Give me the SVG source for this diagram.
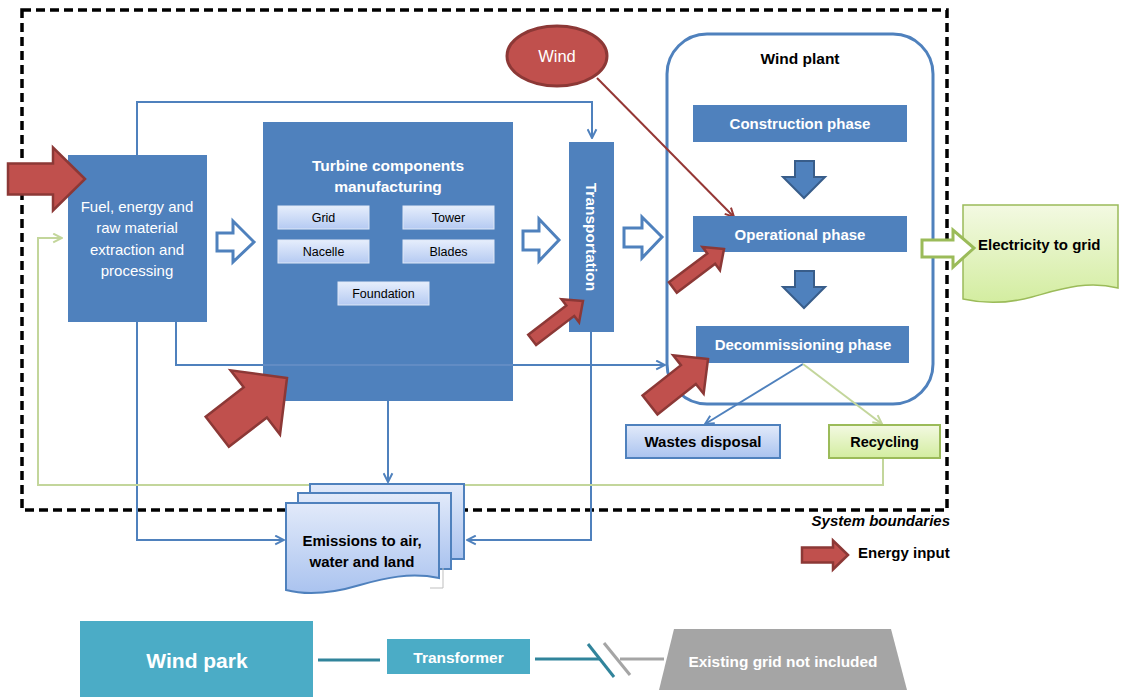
<svg xmlns="http://www.w3.org/2000/svg" width="1121" height="697" viewBox="0 0 1121 697">
<style>
text{font-family:"Liberation Sans",Arial,sans-serif}
.w{fill:#fff}
.b{font-weight:bold}
.blue{fill:#4f81bd}
.conn{fill:none;stroke:#4f81bd;stroke-width:2}
.gconn{fill:none;stroke:#c3d69b;stroke-width:2}
.hollow{fill:#fff;stroke:#4f81bd;stroke-width:3;stroke-linejoin:miter}
.red{fill:#c0504d;stroke:#8c3836;stroke-width:2.5;stroke-linejoin:miter}
.down{fill:#4f81bd;stroke:#385d8a;stroke-width:2}
.sub{fill:url(#gSub);stroke:#dfe8f7;stroke-width:1}
.teal{fill:#4bacc6}
</style>
<defs>
<linearGradient id="gBlue" x1="0" y1="0" x2="0" y2="1"><stop offset="0" stop-color="#e2eafa"/><stop offset="1" stop-color="#aac3ef"/></linearGradient>
<linearGradient id="gGreen" x1="0" y1="0" x2="0" y2="1"><stop offset="0" stop-color="#f3f9e2"/><stop offset="1" stop-color="#d3eda0"/></linearGradient>
<linearGradient id="gSub" x1="0" y1="0" x2="0" y2="1"><stop offset="0" stop-color="#e6eefc"/><stop offset="1" stop-color="#b5caf2"/></linearGradient>
<marker id="mB" viewBox="0 0 10 10" refX="9" refY="5" markerWidth="11" markerHeight="11" markerUnits="userSpaceOnUse" orient="auto"><path d="M1,1 L9,5 L1,9" fill="none" stroke="#4f81bd" stroke-width="1.8"/></marker>
<marker id="mG" viewBox="0 0 10 10" refX="9" refY="5" markerWidth="11" markerHeight="11" markerUnits="userSpaceOnUse" orient="auto"><path d="M1,1 L9,5 L1,9" fill="none" stroke="#c3d69b" stroke-width="1.8"/></marker>
<marker id="mR" viewBox="0 0 10 10" refX="9" refY="5" markerWidth="11" markerHeight="11" markerUnits="userSpaceOnUse" orient="auto"><path d="M1,1 L9,5 L1,9" fill="none" stroke="#953735" stroke-width="1.8"/></marker>
</defs>

<rect width="1121" height="697" fill="#fff"/>

<!-- system boundary -->
<rect id="boundary" x="22" y="10" width="925" height="500" fill="none" stroke="#000" stroke-width="3.5" stroke-dasharray="9,5"/>

<!-- wind plant container -->
<g id="wind-plant">
<rect x="667" y="34" width="266" height="370" rx="40" fill="#fff" stroke="#4f81bd" stroke-width="3"/>
<text x="800" y="64" text-anchor="middle" font-size="15.5" class="b">Wind plant</text>
</g>

<!-- connectors -->
<g id="connectors">
<path class="conn" d="M137,155 V102 H592 V138" marker-end="url(#mB)"/>
<path class="conn" d="M176,322 V365 H665" marker-end="url(#mB)"/>
<path class="conn" d="M137,322 V540 H284" marker-end="url(#mB)"/>
<path class="conn" d="M388,401 V482" marker-end="url(#mB)"/>
<path class="conn" d="M591,332 V540 H467" marker-end="url(#mB)"/>
<path class="conn" d="M803,364 L705,424" marker-end="url(#mB)"/>
<path class="gconn" d="M803,364 L882,424" marker-end="url(#mG)"/>
<path class="gconn" d="M883,459 V485 H38 V238 H62" marker-end="url(#mG)"/>
<path d="M597,78 L734,217" fill="none" stroke="#953735" stroke-width="2" marker-end="url(#mR)"/>
<!-- hollow flow arrows -->
<path class="hollow" d="M217,233 H233 V221 L254,242 L233,262 V251 H217 Z"/>
<path class="hollow" d="M523,231 H539 V219 L559,240 L539,261 V250 H523 Z"/>
<path class="hollow" d="M624,228 H642 V217 L662,237 L642,258 V247 H624 Z"/>
<!-- phase arrows -->
<path class="down" d="M795,161 H814 V177 H825 L804,198 L783,177 H795 Z"/>
<path class="down" d="M795,271 H814 V287 H825 L804,308 L783,287 H795 Z"/>
</g>

<!-- fuel box -->
<g id="fuel">
<rect x="68" y="155" width="139" height="167" class="blue"/>
<text class="w" font-size="15" text-anchor="middle"><tspan x="137" y="212">Fuel, energy and</tspan><tspan x="137" y="233">raw material</tspan><tspan x="137" y="255">extraction and</tspan><tspan x="137" y="276">processing</tspan></text>
</g>

<!-- turbine manufacturing -->
<g id="turbine">
<rect x="263" y="122" width="250" height="279" class="blue"/>
<line x1="263" y1="365" x2="513" y2="365" stroke="#6891c7" stroke-width="1.5"/>
<text class="w b" font-size="15.5" text-anchor="middle"><tspan x="388" y="171">Turbine components</tspan><tspan x="388" y="192">manufacturing</tspan></text>
<g id="grid"><rect x="278" y="206" width="91" height="23" class="sub"/><text x="323.5" y="222" font-size="12.5" text-anchor="middle">Grid</text></g>
<g id="tower"><rect x="403" y="206" width="91" height="23" class="sub"/><text x="448.5" y="222" font-size="12.5" text-anchor="middle">Tower</text></g>
<g id="nacelle"><rect x="278" y="240" width="91" height="23" class="sub"/><text x="323.5" y="256" font-size="12.5" text-anchor="middle">Nacelle</text></g>
<g id="blades"><rect x="403" y="240" width="91" height="23" class="sub"/><text x="448.5" y="256" font-size="12.5" text-anchor="middle">Blades</text></g>
<g id="foundation"><rect x="338" y="282" width="91" height="23" class="sub"/><text x="383.5" y="298" font-size="12.5" text-anchor="middle">Foundation</text></g>
</g>

<!-- transportation -->
<g id="transportation">
<rect x="569" y="142" width="45" height="190" class="blue"/>
<text class="w b" font-size="15.5" text-anchor="middle" transform="translate(586,237) rotate(90)">Transportation</text>
</g>

<!-- wind -->
<g id="wind">
<ellipse cx="557" cy="56" rx="50" ry="30" fill="#c0504d" stroke="#8c3836" stroke-width="3"/>
<text class="w" x="557" y="62" font-size="16.5" text-anchor="middle">Wind</text>
</g>

<!-- phases -->
<g id="construction"><rect x="693" y="105" width="214" height="37" class="blue"/><text class="w b" x="800" y="129" font-size="15" text-anchor="middle">Construction phase</text></g>
<g id="operational"><rect x="693" y="216" width="214" height="36" class="blue"/><text class="w b" x="800" y="240" font-size="15" text-anchor="middle">Operational phase</text></g>
<g id="decommissioning"><rect x="696" y="326" width="213" height="37" class="blue"/><text class="w b" x="803" y="350" font-size="15" text-anchor="middle">Decommissioning phase</text></g>

<!-- electricity to grid -->
<g id="electricity">
<path d="M963,205 H1118 V288 C1085,280 1058,290 1032,297 C1006,304 985,304 963,299 Z" fill="url(#gGreen)" stroke="#9bbb59" stroke-width="1.5"/>
<path d="M922,240 H953 V230 L974,248 L953,267 V257 H922 Z" fill="#fff" stroke="#9bbb59" stroke-width="3"/>
<text x="978" y="250" font-size="15" class="b">Electricity to grid</text>
</g>

<!-- wastes / recycling -->
<g id="wastes"><rect x="626" y="425" width="154" height="33" fill="url(#gBlue)" stroke="#4f81bd" stroke-width="2"/><text x="703" y="447" font-size="15" class="b" text-anchor="middle">Wastes disposal</text></g>
<g id="recycling"><rect x="829" y="425" width="111" height="33" fill="url(#gGreen)" stroke="#9bbb59" stroke-width="2"/><text x="884.5" y="447" font-size="14.5" class="b" text-anchor="middle">Recycling</text></g>

<!-- emissions -->
<g id="emissions">
<rect x="310" y="484" width="154" height="75" fill="url(#gBlue)" stroke="#4f81bd" stroke-width="2"/>
<rect x="298" y="493" width="153" height="76" fill="url(#gBlue)" stroke="#4f81bd" stroke-width="2"/>
<polyline points="443,568 443,588 430,588" fill="none" stroke="#bfbfbf" stroke-width="1"/>
<path d="M286,503 H439 V578 C410,572 385,578 360,585 C330,594 305,595 286,590 Z" fill="url(#gBlue)" stroke="#4f81bd" stroke-width="2"/>
<text class="b" font-size="15" text-anchor="middle"><tspan x="362" y="546">Emissions to air,</tspan><tspan x="362" y="567">water and land</tspan></text>
</g>

<!-- energy inputs -->
<g id="energy-inputs">
<path class="red" d="M0,0 L-32,-31.5 L-32,-15.5 L-77,-15.5 L-77,15.5 L-32,15.5 L-32,31.5 Z" transform="translate(85,179)"/>
<path class="red" stroke-width="3" d="M0,0 L-40,-40.5 L-40,-19 L-88,-19 L-88,19 L-40,19 L-40,40.5 Z" transform="translate(287,378) rotate(-37.6)"/>
<path class="red" d="M0,0 L-16,-14.5 L-16,-6.5 L-64,-6.5 L-64,6.5 L-16,6.5 L-16,14.5 Z" transform="translate(583,301) rotate(-37.4)"/>
<path class="red" d="M0,0 L-16,-14.5 L-16,-6.5 L-64,-6.5 L-64,6.5 L-16,6.5 L-16,14.5 Z" transform="translate(724,249) rotate(-37)"/>
<path class="red" d="M0,0 L-25,-24.5 L-25,-12 L-74,-12 L-74,12 L-25,12 L-25,24.5 Z" transform="translate(708,359) rotate(-38.4)"/>
</g>

<!-- legend -->
<g id="legend">
<text x="950" y="526" font-size="15" class="b" font-style="italic" text-anchor="end">System boundaries</text>
<path class="red" d="M0,0 L-15,-14.5 L-15,-7.5 L-46,-7.5 L-46,7.5 L-15,7.5 L-15,14.5 Z" transform="translate(848,555)"/>
<text x="858" y="558" font-size="15" class="b">Energy input</text>
</g>

<!-- bottom grid chain -->
<g id="wind-park"><rect x="80" y="621" width="233" height="76" class="teal"/><text class="w b" x="197" y="668" font-size="21" text-anchor="middle">Wind park</text></g>
<g id="transformer"><rect x="387" y="639" width="143" height="35" class="teal"/><text class="w b" x="458.5" y="663" font-size="15.5" text-anchor="middle">Transformer</text></g>
<g id="existing-grid"><path d="M674,629 H891 L907,690 H659 Z" fill="#a5a5a5"/><text class="w b" x="783" y="667" font-size="15.4" text-anchor="middle">Existing grid not included</text></g>
<g id="grid-connectors">
<line x1="318" y1="660" x2="380" y2="660" stroke="#31849b" stroke-width="3"/>
<line x1="535" y1="659" x2="600" y2="659" stroke="#31849b" stroke-width="3"/>
<line x1="588" y1="644" x2="614" y2="677" stroke="#31849b" stroke-width="3"/>
<line x1="604" y1="643" x2="630" y2="675" stroke="#a5a5a5" stroke-width="3"/>
<line x1="620" y1="659" x2="664" y2="659" stroke="#a5a5a5" stroke-width="3"/>
</g>
</svg>
